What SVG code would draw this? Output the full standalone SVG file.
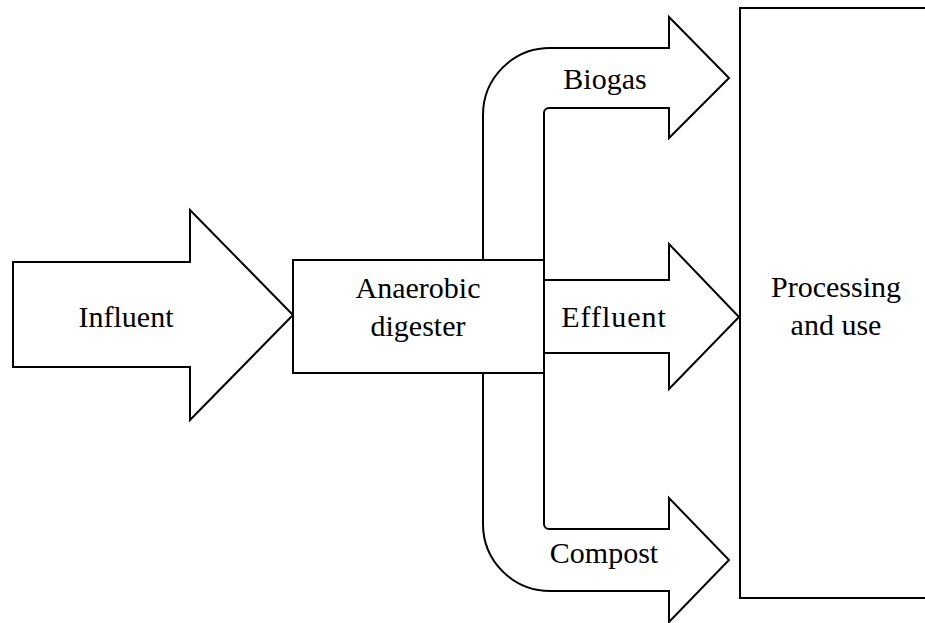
<svg xmlns="http://www.w3.org/2000/svg" width="925" height="623" viewBox="0 0 925 623">
<style>
.s{fill:#fff;stroke:#000;stroke-width:2;stroke-linejoin:miter}
.t{font-size:30px;fill:#000;text-anchor:middle}
</style>
<rect width="925" height="623" fill="#fff"/>
<g font-family="'Liberation Serif', 'Times New Roman', Times, 'DejaVu Serif', serif">
<g id="connectors">
<g id="influent">
<polygon class="s" points="13,262 190,262 190,210 293,315 190,420 190,367 13,367"/>
<text class="t" x="126" y="327">Influent</text>
</g>
<g id="biogas">
<path class="s" d="M483,260 V115 A67,67 0 0 1 550,48 H669 V17 L729,78 L669,138 V108 H549 A5,5 0 0 0 544,113 V260"/>
<text class="t" x="605" y="89">Biogas</text>
</g>
<g id="effluent">
<path class="s" d="M544,280 H669 V244 L739,317 L669,389 V353 H544"/>
<text class="t" x="614" y="327" letter-spacing="1">Effluent</text>
</g>
<g id="compost">
<path class="s" d="M483,373 V524 A67,67 0 0 0 550,591 H669 V622 L729,560 L669,498 V529 H549 A5,5 0 0 1 544,524 V373"/>
<text class="t" x="604" y="563">Compost</text>
</g>
</g>
<g id="digester">
<rect class="s" x="293" y="260" width="251" height="113"/>
<text class="t" x="418" y="298">Anaerobic</text>
<text class="t" x="418" y="336">digester</text>
</g>
<g id="processing">
<path class="s" d="M926,8 H740 V598 H926"/>
<text class="t" x="836" y="297">Processing</text>
<text class="t" x="836" y="335">and use</text>
</g>
</g>
</svg>
